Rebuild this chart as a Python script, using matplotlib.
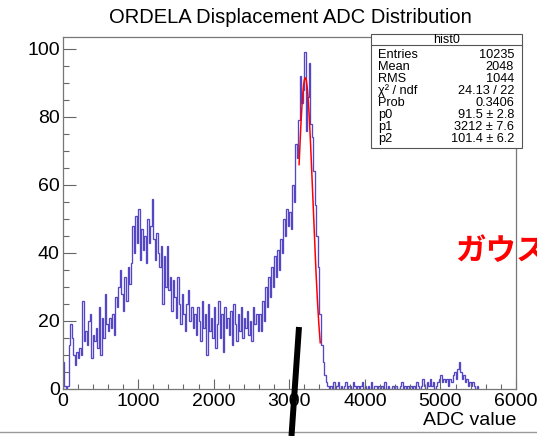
import matplotlib
matplotlib.use("Agg")
import matplotlib.pyplot as plt
import numpy as np
from matplotlib.lines import Line2D
from matplotlib.patches import Rectangle
from matplotlib.ticker import MultipleLocator

plt.rcParams['font.family'] = ['Liberation Sans', 'DejaVu Sans']

# histogram contents, 20 ADC wide bins starting at 0
bin_width = 20
counts = [
    8, 1, 0, 1, 13, 19, 15, 10, 7, 11,
    9, 12, 10, 26, 14, 17, 13, 20, 22, 9,
    16, 14, 18, 12, 24, 10, 21, 15, 28, 19,
    17, 21, 18, 22, 16, 27, 24, 30, 35, 28,
    23, 33, 26, 36, 31, 37, 48, 40, 51, 43,
    53, 38, 47, 41, 45, 37, 50, 43, 48, 56,
    44, 38, 46, 40, 36, 42, 25, 39, 30, 42,
    29, 33, 23, 32, 27, 21, 33, 25, 19, 28,
    22, 17, 25, 29, 20, 24, 18, 22, 16, 24,
    20, 14, 26, 18, 22, 10, 25, 17, 21, 15,
    24, 12, 19, 26, 15, 22, 11, 24, 18, 21,
    16, 23, 13, 25, 19, 14, 22, 17, 24, 15,
    21, 18, 23, 16, 20, 14, 24, 19, 22, 17,
    22, 17, 26, 20, 30, 24, 33, 27, 36, 30,
    39, 33, 41, 35, 44, 40, 50, 45, 53, 48,
    52, 47, 60, 55, 72, 68, 79, 92, 84, 88,
    99, 76, 86, 96, 78, 74, 64, 54, 45, 36,
    22, 13, 8, 4, 2, 1, 0, 1, 0, 2,
    0, 1, 2, 0, 1, 0, 1, 2, 0, 1,
    1, 0, 2, 1, 0, 1, 0, 1, 2, 0,
    1, 0, 1, 0, 2, 0, 1, 1, 0, 1,
    0, 1, 0, 2, 0, 1, 0, 0, 1, 0,
    1, 0, 0, 1, 2, 0, 1, 0, 1, 0,
    1, 0, 1, 0, 2, 1, 0, 1, 3, 1,
    0, 2, 1, 3, 1, 2, 0, 1, 2, 3,
    4, 2, 3, 2, 3, 1, 3, 2, 4, 5,
    3, 6, 8, 5, 3, 4, 2, 3, 1, 2,
    1, 2, 1, 0, 1,
]

# gaussian fit result
p0, p1, p2 = 91.5, 3212, 101.4
fit_range = (3130, 3410)

stat_names = ['Entries', 'Mean', 'RMS', 'χ² / ndf', 'Prob', 'p0', 'p1', 'p2']
stat_values = ['10235', '2048', '1044', '24.13 / 22', '0.3406',
               '91.5 ± 2.8', '3212 ± 7.6', '101.4 ± 6.2']

fig = plt.figure(figsize=(5.37, 4.36), dpi=100)
ax = fig.add_axes([0.1164, 0.1078, 0.8445, 0.8073])

edges = np.arange(len(counts) + 1) * bin_width
ax.stairs(counts, edges, color='#5546c4', lw=0.95, baseline=0)

xf = np.linspace(fit_range[0], fit_range[1], 200)
ax.plot(xf, p0 * np.exp(-0.5 * ((xf - p1) / p2) ** 2), color='red', lw=1.1)

ax.set_xlim(0, 6000)
ax.set_ylim(0, 103.5)
ax.xaxis.set_major_locator(MultipleLocator(1000))
ax.xaxis.set_minor_locator(MultipleLocator(200))
ax.yaxis.set_major_locator(MultipleLocator(20))
ax.yaxis.set_minor_locator(MultipleLocator(5))
ax.tick_params(axis='x', which='major', direction='in', length=7, width=0.8,
               color='#666666', labelsize=14, pad=3)
ax.tick_params(axis='x', which='minor', direction='in', length=3.6, width=0.8,
               color='#666666')
ax.tick_params(axis='y', which='major', direction='in', length=9, width=0.8,
               color='#666666', labelsize=14, pad=2)
ax.tick_params(axis='y', which='minor', direction='in', length=4.5, width=0.8,
               color='#666666')
for s in ax.spines.values():
    s.set_color('#777777')
    s.set_linewidth(0.9)

ax.set_xlabel('ADC value', fontsize=14, loc='right', labelpad=1)

fig.text(0.54, 0.961, 'ORDELA Displacement ADC Distribution',
         ha='center', va='center', fontsize=14.5)

# red label, cut off by the right edge
ax.text(455 / 537, 1 - 251 / 436, 'ガウス', transform=fig.transFigure,
        color='red', fontsize=22, fontweight='bold', va='center', ha='left',
        family=['Noto Sans CJK JP', 'DejaVu Sans'], zorder=1)

# stats box
bx0, bx1 = 371 / 537, 522 / 537
by0, by1 = 1 - 148 / 436, 1 - 34 / 436
fig.patches.append(Rectangle((bx0, by0), bx1 - bx0, by1 - by0, transform=fig.transFigure,
                             facecolor='white', edgecolor='#555555', lw=0.8, zorder=5))
hy = 1 - 45 / 436
fig.lines.append(Line2D([bx0, bx1], [hy, hy], transform=fig.transFigure,
                        color='#555555', lw=0.8, zorder=6))
fig.text((bx0 + bx1) / 2, 1 - 40 / 436, 'hist0', ha='center', va='center',
         fontsize=9, zorder=7)
for i, (name, val) in enumerate(zip(stat_names, stat_values)):
    yy = 1 - (53.5 + 12 * i) / 436
    fig.text(378 / 537, yy, name, ha='left', va='center_baseline', fontsize=9.2, zorder=7)
    fig.text(514 / 537, yy, val, ha='right', va='center_baseline', fontsize=9.2, zorder=7)

# black stroke and bottom rule
fig.lines.append(Line2D([291.5 / 537, 299 / 537], [0, 1 - 327 / 436],
                        transform=fig.transFigure, color='black', lw=4.3,
                        solid_capstyle='butt', zorder=8))
fig.lines.append(Line2D([0, 1], [1 - 432 / 436] * 2, transform=fig.transFigure,
                        color='#999999', lw=1, zorder=3))

fig.savefig('out.png', dpi=100)
